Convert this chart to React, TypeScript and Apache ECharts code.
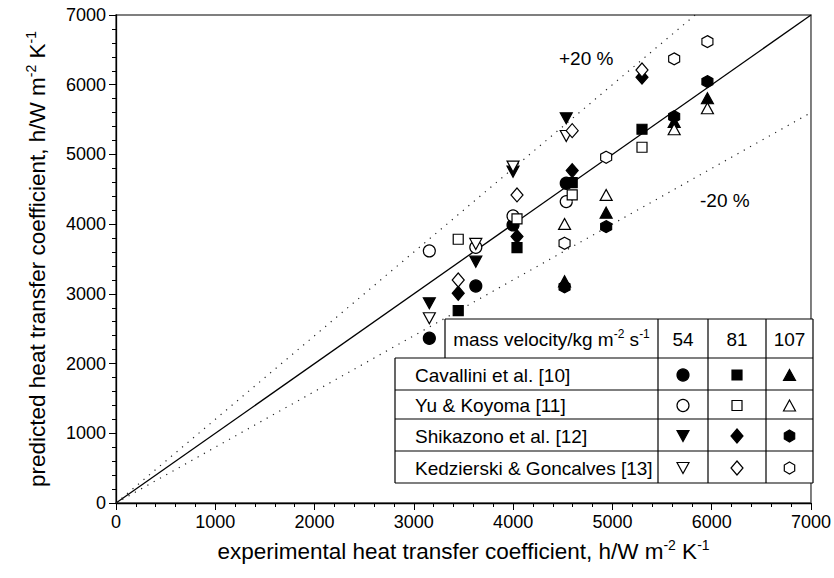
import React, { useEffect, useRef } from "react";
import * as echarts from "echarts";

// ---- data ----
const massVelocities = ["54", "81", "107"];
const studies = [
  "Cavallini et al. [10]",
  "Yu & Koyoma [11]",
  "Shikazono et al. [12]",
  "Kedzierski & Goncalves [13]",
];

// experimental heat transfer coefficient (x) per mass velocity
const exp54 = [3156, 3624, 3999, 4535];
const exp81 = [3447, 4039, 4595, 5298];
const exp107 = [4518, 4937, 5622, 5957];

// predicted values (y)
const cavallini54 = [2363, 3113, 3989, 4587];
const yu54 = [3616, 3668, 4118, 4323];
const shikazono54 = [2865, 3462, 4753, 5519];
const kedzierski54 = [2650, 3716, 4825, 5265];

const cavallini81 = [2759, 3663, 4595, 5361];
const yu81 = [3783, 4075, 4419, 5103];
const shikazono81 = [3009, 3821, 4768, 6108];
const kedzierski81 = [3199, 4419, 5341, 6212];

const cavallini107 = [3180, 4165, 5466, 5806];
const yu107 = [4003, 4419, 5361, 5663];
const shikazono107 = [3100, 3964, 5542, 6045];
const kedzierski107 = [3726, 4960, 6370, 6618];

const perfectLine = [
  [0, 0],
  [7000, 7000],
];
const plus20Line = [
  [0, 0],
  [5833, 7000],
];
const minus20Line = [
  [0, 0],
  [7000, 5600],
];

const FONT = "Liberation Sans, Arial, Helvetica, sans-serif";

type Shape = "circle" | "rect" | "triangle" | "triangleDown" | "diamond" | "hexagon";

const seriesDefs: { study: number; vel: number; xs: number[]; ys: number[]; shape: Shape; filled: boolean }[] = [
  { study: 0, vel: 0, xs: exp54, ys: cavallini54, shape: "circle", filled: true },
  { study: 1, vel: 0, xs: exp54, ys: yu54, shape: "circle", filled: false },
  { study: 2, vel: 0, xs: exp54, ys: shikazono54, shape: "triangleDown", filled: true },
  { study: 3, vel: 0, xs: exp54, ys: kedzierski54, shape: "triangleDown", filled: false },
  { study: 0, vel: 1, xs: exp81, ys: cavallini81, shape: "rect", filled: true },
  { study: 1, vel: 1, xs: exp81, ys: yu81, shape: "rect", filled: false },
  { study: 2, vel: 1, xs: exp81, ys: shikazono81, shape: "diamond", filled: true },
  { study: 3, vel: 1, xs: exp81, ys: kedzierski81, shape: "diamond", filled: false },
  { study: 0, vel: 2, xs: exp107, ys: cavallini107, shape: "triangle", filled: true },
  { study: 1, vel: 2, xs: exp107, ys: yu107, shape: "triangle", filled: false },
  { study: 2, vel: 2, xs: exp107, ys: shikazono107, shape: "hexagon", filled: true },
  { study: 3, vel: 2, xs: exp107, ys: kedzierski107, shape: "hexagon", filled: false },
];

const HEX = "path://M5,0 L10,3 L10,9 L5,12 L0,9 L0,3 Z";

function symbolFor(shape: Shape) {
  switch (shape) {
    case "circle":
      return { symbol: "circle", symbolSize: 12, symbolRotate: 0 };
    case "rect":
      return { symbol: "rect", symbolSize: 10, symbolRotate: 0 };
    case "triangle":
      return { symbol: "triangle", symbolSize: [12, 11], symbolRotate: 0 };
    case "triangleDown":
      return { symbol: "triangle", symbolSize: [12, 11], symbolRotate: 180 };
    case "diamond":
      return { symbol: "diamond", symbolSize: [12, 14], symbolRotate: 0 };
    case "hexagon":
      return { symbol: HEX, symbolSize: [11, 12], symbolRotate: 0 };
  }
}

function markerGraphic(shape: Shape, filled: boolean, cx: number, cy: number) {
  const style = { fill: filled ? "#000" : "#fff", stroke: "#000", lineWidth: 1.2 };
  const z = 110;
  switch (shape) {
    case "circle":
      return { type: "circle", z, shape: { cx, cy, r: 6 }, style };
    case "rect":
      return { type: "rect", z, shape: { x: cx - 5, y: cy - 5, width: 10, height: 10 }, style };
    case "triangle":
      return {
        type: "polygon",
        z,
        shape: { points: [[cx, cy - 5.5], [cx + 6, cy + 5.5], [cx - 6, cy + 5.5]] },
        style,
      };
    case "triangleDown":
      return {
        type: "polygon",
        z,
        shape: { points: [[cx - 6, cy - 5.5], [cx + 6, cy - 5.5], [cx, cy + 5.5]] },
        style,
      };
    case "diamond":
      return {
        type: "polygon",
        z,
        shape: { points: [[cx, cy - 7], [cx + 6, cy], [cx, cy + 7], [cx - 6, cy]] },
        style,
      };
    case "hexagon":
      return {
        type: "polygon",
        z,
        shape: {
          points: [
            [cx, cy - 6],
            [cx + 5.2, cy - 3],
            [cx + 5.2, cy + 3],
            [cx, cy + 6],
            [cx - 5.2, cy + 3],
            [cx - 5.2, cy - 3],
          ],
        },
        style,
      };
  }
}

export default function App() {
  const ref = useRef<HTMLDivElement>(null);

  useEffect(() => {
    if (!ref.current) return;
    const chart = echarts.init(ref.current, null, { renderer: "svg" });

    const supRich = {
      b: { fontSize: 22.5, fontFamily: FONT, color: "#000", lineHeight: 26 },
      s: { fontSize: 14, fontFamily: FONT, color: "#000", lineHeight: 14, verticalAlign: "top" as const },
    };
    const tableRich = {
      b: { fontSize: 19, fontFamily: FONT, color: "#000", lineHeight: 24 },
      s: { fontSize: 12, fontFamily: FONT, color: "#000", lineHeight: 12, verticalAlign: "top" as const },
    };

    // table layout (pixels)
    const tableLeft = 395;
    const headerLeft = 445;
    const colX = [658, 708, 766];
    const tableRight = 813;
    const rowY = [319, 358, 390, 419, 451, 483];
    const colCenters = [683, 737, 789.5];
    const lineStyle = { stroke: "#000", lineWidth: 1.2 };

    const graphics: any[] = [];
    graphics.push({
      type: "rect",
      z: 100,
      shape: { x: headerLeft, y: rowY[0], width: tableRight - headerLeft, height: rowY[1] - rowY[0] },
      style: { fill: "#fff" },
    });
    graphics.push({
      type: "rect",
      z: 100,
      shape: { x: tableLeft, y: rowY[1], width: tableRight - tableLeft, height: rowY[5] - rowY[1] },
      style: { fill: "#fff" },
    });
    graphics.push({ type: "line", z: 105, shape: { x1: headerLeft, y1: rowY[0], x2: tableRight, y2: rowY[0] }, style: lineStyle });
    for (let i = 1; i < rowY.length; i++) {
      graphics.push({ type: "line", z: 105, shape: { x1: tableLeft, y1: rowY[i], x2: tableRight, y2: rowY[i] }, style: lineStyle });
    }
    graphics.push({ type: "line", z: 105, shape: { x1: headerLeft, y1: rowY[0], x2: headerLeft, y2: rowY[1] }, style: lineStyle });
    graphics.push({ type: "line", z: 105, shape: { x1: tableLeft, y1: rowY[1], x2: tableLeft, y2: rowY[5] }, style: lineStyle });
    colX.forEach((x) =>
      graphics.push({ type: "line", z: 105, shape: { x1: x, y1: rowY[0], x2: x, y2: rowY[5] }, style: lineStyle })
    );
    graphics.push({ type: "line", z: 105, shape: { x1: tableRight, y1: rowY[0], x2: tableRight, y2: rowY[5] }, style: lineStyle });

    graphics.push({
      type: "text",
      z: 110,
      x: (headerLeft + colX[0]) / 2,
      y: (rowY[0] + rowY[1]) / 2 + 1,
      style: {
        text: "{b|mass velocity/kg m}{s|-2}{b| s}{s|-1}",
        rich: tableRich,
        align: "center",
        verticalAlign: "middle",
      },
    });
    massVelocities.forEach((v, i) =>
      graphics.push({
        type: "text",
        z: 110,
        x: colCenters[i],
        y: (rowY[0] + rowY[1]) / 2 + 1,
        style: { text: v, fontSize: 19, fontFamily: FONT, fill: "#000", align: "center", verticalAlign: "middle" },
      })
    );
    studies.forEach((s, r) =>
      graphics.push({
        type: "text",
        z: 110,
        x: 415,
        y: (rowY[r + 1] + rowY[r + 2]) / 2 + 1,
        style: { text: s, fontSize: 19, fontFamily: FONT, fill: "#000", align: "left", verticalAlign: "middle" },
      })
    );
    seriesDefs.forEach((d) =>
      graphics.push(
        markerGraphic(d.shape, d.filled, colCenters[d.vel], (rowY[d.study + 1] + rowY[d.study + 2]) / 2 + 1)
      )
    );

    graphics.push({
      type: "text",
      z: 110,
      x: 559,
      y: 58,
      style: { text: "+20 %", fontSize: 19, fontFamily: FONT, fill: "#000", align: "left", verticalAlign: "middle" },
    });
    graphics.push({
      type: "text",
      z: 110,
      x: 700,
      y: 200,
      style: { text: "-20 %", fontSize: 19, fontFamily: FONT, fill: "#000", align: "left", verticalAlign: "middle" },
    });

    const axisCommon = {
      type: "value" as const,
      min: 0,
      max: 7000,
      interval: 1000,
      axisLine: { show: true, lineStyle: { color: "#000", width: 1.3 } },
      axisTick: { show: true, length: 7, inside: false, lineStyle: { color: "#000", width: 1 } },
      minorTick: { show: true, splitNumber: 5, length: 4, lineStyle: { color: "#000", width: 1 } },
      splitLine: { show: false },
      minorSplitLine: { show: false },
      axisLabel: {
        fontSize: 18,
        fontFamily: FONT,
        color: "#000",
        margin: 10,
        formatter: (v: number) => String(v),
      },
      nameLocation: "middle" as const,
    };

    const scatterSeries = seriesDefs.map((d) => {
      const sym = symbolFor(d.shape);
      return {
        type: "scatter",
        name: studies[d.study] + " " + massVelocities[d.vel],
        data: d.xs.map((x, i) => [x, d.ys[i]]),
        symbol: sym.symbol,
        symbolSize: sym.symbolSize,
        symbolRotate: sym.symbolRotate,
        itemStyle: {
          color: d.filled ? "#000" : "#fff",
          borderColor: "#000",
          borderWidth: 1.2,
          opacity: 1,
        },
        z: 5,
      };
    });

    chart.setOption({
      animation: false,
      backgroundColor: "#fff",
      grid: {
        left: 116,
        right: 21,
        top: 15,
        bottom: 75,
        show: true,
        borderColor: "#555",
        borderWidth: 1.5,
        backgroundColor: "transparent",
      },
      xAxis: {
        ...axisCommon,
        name: "{b|experimental heat transfer coefficient, h/W m}{s|-2}{b| K}{s|-1}",
        nameGap: 35,
        nameTextStyle: { rich: supRich },
      },
      yAxis: {
        ...axisCommon,
        name: "{b|predicted heat transfer coefficient, h/W m}{s|-2}{b| K}{s|-1}",
        nameGap: 66,
        nameRotate: 90,
        nameTextStyle: { rich: supRich },
      },
      series: [
        {
          type: "line",
          data: perfectLine,
          symbol: "none",
          lineStyle: { color: "#000", width: 1.3 },
          z: 3,
        },
        {
          type: "line",
          data: plus20Line,
          symbol: "none",
          lineStyle: { color: "#222", width: 1.2, type: [1.2, 6] },
          z: 3,
        },
        {
          type: "line",
          data: minus20Line,
          symbol: "none",
          lineStyle: { color: "#222", width: 1.2, type: [1.2, 6] },
          z: 3,
        },
        ...scatterSeries,
      ],
      graphic: graphics,
    });

    return () => chart.dispose();
  }, []);

  return (
    <div
      ref={ref}
      style={{ position: "fixed", left: 0, top: 0, width: 834, height: 578, background: "#fff" }}
    />
  );
}
